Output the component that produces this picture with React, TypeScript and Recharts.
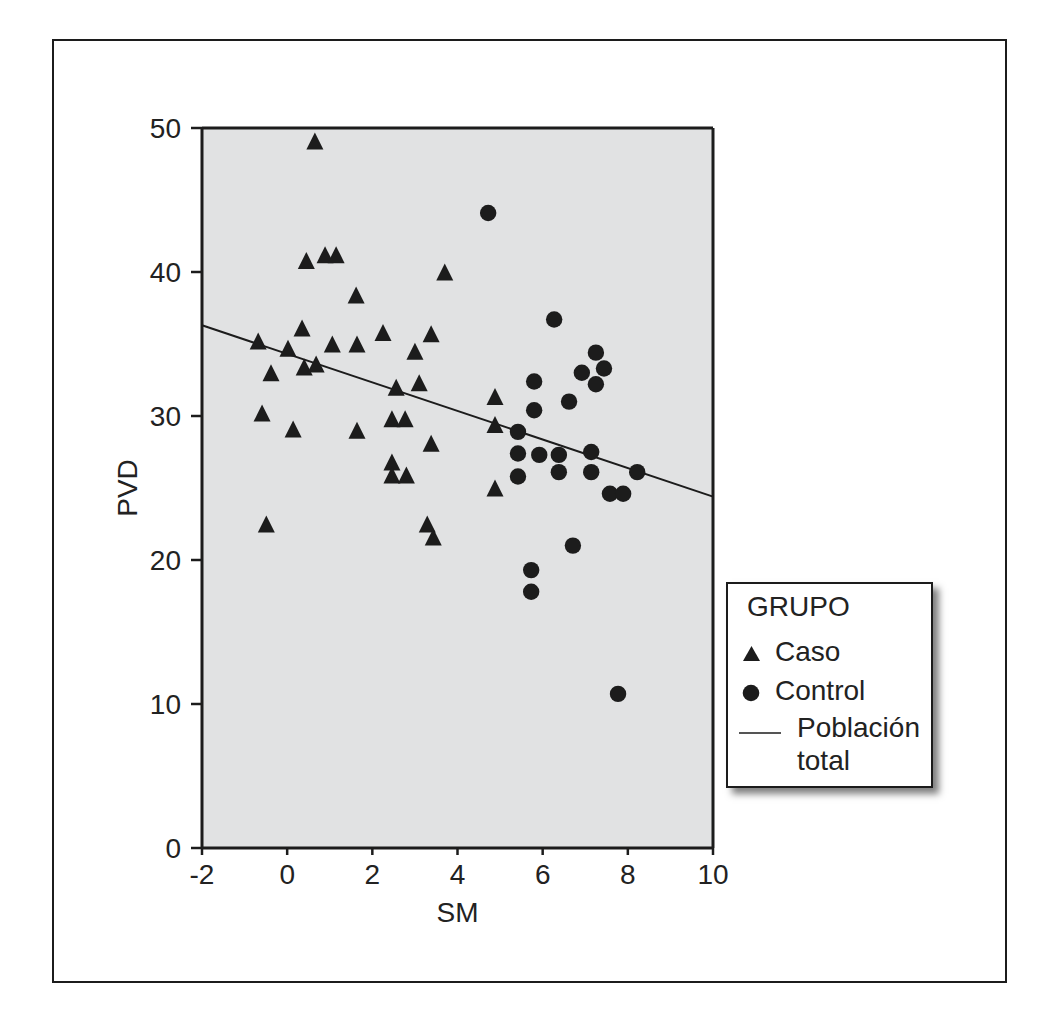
import React from "react";
import {
  ScatterChart, Scatter, XAxis, YAxis, CartesianGrid, ReferenceLine,
} from "recharts";

// Caso (triangles)
const casoSM = [
  0.65, 0.45, 0.89, 1.15, 3.7, 1.62, -0.68, 0.35, 0.02, 1.06, 1.64, 2.25,
  3.38, 3.0, -0.38, 0.4, 0.68, 2.56, 3.1, -0.59, 0.14, 1.64, 2.46, 2.77,
  3.38, 2.46, 2.46, 2.8, -0.49, 3.29, 3.43, 4.88, 4.88, 4.88,
];
const casoPVD = [
  49.0, 40.7, 41.1, 41.1, 39.9, 38.3, 35.1, 36.0, 34.6, 34.9, 34.9, 35.7,
  35.6, 34.4, 32.9, 33.3, 33.5, 31.9, 32.2, 30.1, 29.0, 28.9, 29.7, 29.7,
  28.0, 26.7, 25.8, 25.8, 22.4, 22.4, 21.5, 31.25, 29.3, 24.9,
];

// Control (circles)
const controlSM = [
  4.72, 6.27, 7.25, 7.44, 6.92, 7.25, 5.8, 6.62, 5.8, 5.42, 5.42, 5.92,
  6.38, 7.14, 6.38, 7.14, 5.42, 8.22, 7.58, 7.89, 5.73, 5.73, 6.71, 7.77,
];
const controlPVD = [
  44.1, 36.7, 34.4, 33.3, 33.0, 32.2, 32.4, 31.0, 30.4, 28.9, 27.4, 27.3,
  27.3, 27.5, 26.1, 26.1, 25.8, 26.1, 24.6, 24.6, 19.3, 17.8, 21.0, 10.7,
];

// Población total fit line
const fitSM = [-2, 10];
const fitPVD = [36.3, 24.4];

const xTicks = [-2, 0, 2, 4, 6, 8, 10];
const yTicks = [0, 10, 20, 30, 40, 50];

const casoData = casoSM.map((x, i) => ({ sm: x, pvd: casoPVD[i] }));
const controlData = controlSM.map((x, i) => ({ sm: x, pvd: controlPVD[i] }));
const fitSegment = fitSM.map((x, i) => ({ x, y: fitPVD[i] }));

const INK = "#1c1c1c";
const FONT = "'Liberation Sans', Arial, Helvetica, sans-serif";
const FS = 28;

const Triangle = (props: any) => {
  const { cx, cy } = props;
  return (
    <path
      d={`M${cx},${cy - 10} L${cx + 8.5},${cy + 7} L${cx - 8.5},${cy + 7} Z`}
      fill={INK}
    />
  );
};

const Dot = (props: any) => {
  const { cx, cy } = props;
  return <circle cx={cx} cy={cy} r={8.2} fill={INK} />;
};

const App: React.FC = () => {
  return (
    <div style={{ position: "absolute", left: 0, top: 0, width: 1050, height: 1012, background: "#fff", fontFamily: FONT }}>
      {/* outer frame */}
      <div
        style={{
          position: "absolute", left: 52, top: 39, width: 955, height: 944,
          border: `2px solid ${INK}`, boxSizing: "border-box",
        }}
      />
      <ScatterChart
        width={1050}
        height={1012}
        margin={{ top: 128, right: 337, bottom: 84, left: 107 }}
        style={{ position: "absolute", left: 0, top: 0 }}
      >
        <CartesianGrid horizontal={false} vertical={false} fill="#e1e2e3" />
        <XAxis
          type="number"
          dataKey="sm"
          domain={[-2, 10]}
          ticks={xTicks}
          allowDataOverflow
          height={80}
          axisLine={{ stroke: INK, strokeWidth: 3 }}
          tickLine={{ stroke: INK, strokeWidth: 2.5 }}
          tickSize={7}
          tickMargin={9}
          tick={{ fill: "#222", fontSize: FS, fontFamily: FONT }}
          label={{ value: "SM", position: "insideBottom", offset: 6, fill: "#222", fontSize: FS, fontFamily: FONT }}
        />
        <YAxis
          type="number"
          dataKey="pvd"
          domain={[0, 50]}
          ticks={yTicks}
          allowDataOverflow
          width={95}
          axisLine={{ stroke: INK, strokeWidth: 3 }}
          tickLine={{ stroke: INK, strokeWidth: 2.5 }}
          tickSize={11}
          tickMargin={10}
          tick={{ fill: "#222", fontSize: FS, fontFamily: FONT }}
          label={{ value: "PVD", angle: -90, position: "insideLeft", offset: 20, textAnchor: "middle", fill: "#222", fontSize: FS, fontFamily: FONT }}
        />
        {/* top and right plot borders */}
        <ReferenceLine y={50} stroke={INK} strokeWidth={3} />
        <ReferenceLine x={10} stroke={INK} strokeWidth={3} />
        <ReferenceLine segment={fitSegment} stroke={INK} strokeWidth={2} />
        <Scatter name="Caso" data={casoData} shape={Triangle} isAnimationActive={false} />
        <Scatter name="Control" data={controlData} shape={Dot} isAnimationActive={false} />
      </ScatterChart>

      {/* legend */}
      <div
        style={{
          position: "absolute", left: 726, top: 582, width: 207, height: 206,
          border: `2px solid ${INK}`, boxSizing: "border-box", background: "#fff",
          boxShadow: "6px 6px 7px rgba(0,0,0,0.5)", color: "#222", fontSize: FS,
          lineHeight: "28px", whiteSpace: "nowrap",
        }}
      >
        <div style={{ position: "absolute", left: 19, top: 9 }}>GRUPO</div>
        <svg style={{ position: "absolute", left: 15, top: 62 }} width={20} height={18}>
          <path d="M8.5,0 L17,15 L0,15 Z" fill={INK} />
        </svg>
        <div style={{ position: "absolute", left: 47, top: 54 }}>Caso</div>
        <svg style={{ position: "absolute", left: 14, top: 100 }} width={20} height={20}>
          <circle cx={9} cy={9} r={8.3} fill={INK} />
        </svg>
        <div style={{ position: "absolute", left: 47, top: 93 }}>Control</div>
        <svg style={{ position: "absolute", left: 11, top: 147 }} width={44} height={4}>
          <line x1={0} y1={2} x2={42} y2={2} stroke={INK} strokeWidth={1.5} />
        </svg>
        <div style={{ position: "absolute", left: 69, top: 127, lineHeight: "33px" }}>
          Población<br />total
        </div>
      </div>
    </div>
  );
};

export default App;
